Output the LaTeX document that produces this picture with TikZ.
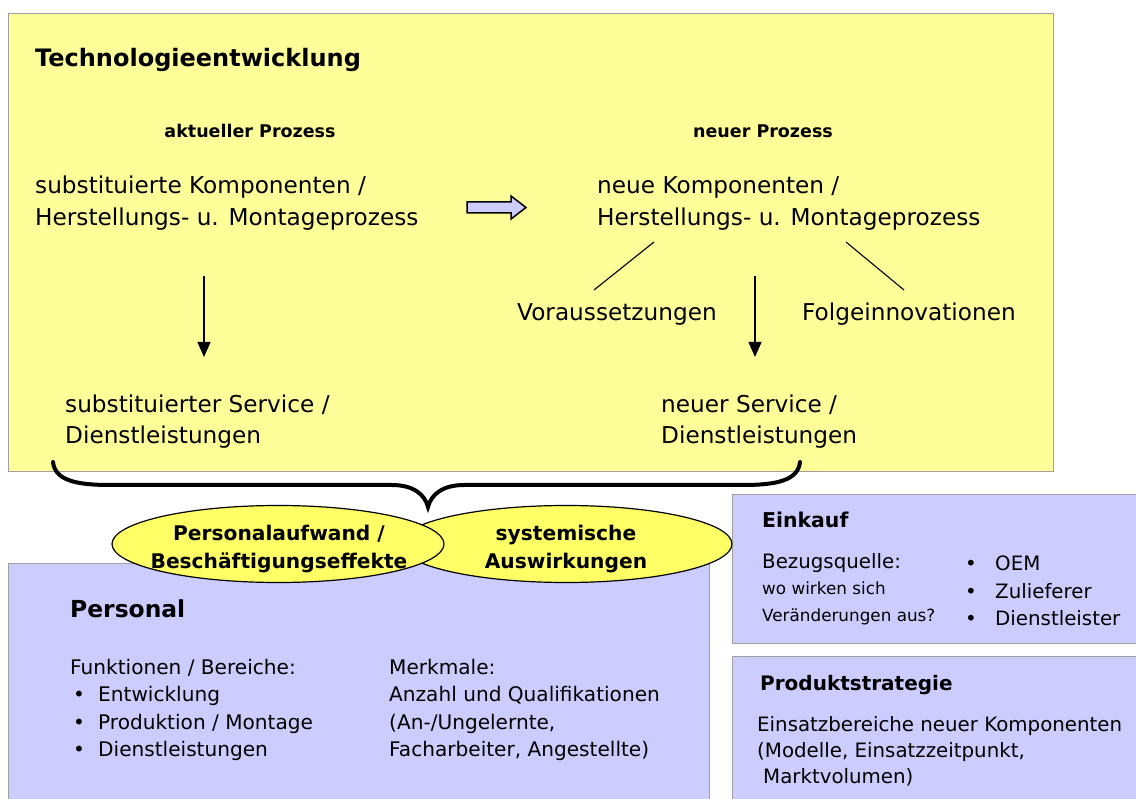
\documentclass[tikz,border=0pt]{standalone}
\usepackage{fontspec}
\setmainfont{DejaVu Sans}
\usetikzlibrary{arrows.meta,shapes.geometric}
\definecolor{ylw}{HTML}{FFFF99}
\definecolor{ylwE}{HTML}{FFFF66}
\definecolor{lav}{HTML}{CCCCFF}
\definecolor{brd}{HTML}{A0A0A0}
\newcommand\fsz[1]{\fontsize{#1}{#1}\selectfont}
\tikzset{
  panelY/.style={draw=brd,fill=ylw,line width=1.2pt,anchor=north west,inner sep=0pt},
  panelL/.style={draw=brd,fill=lav,line width=1.2pt,anchor=north west,inner sep=0pt},
  ttl/.style={anchor=base west,inner sep=0pt,font=\bfseries\fsz{24}},
  sub/.style={anchor=base,inner sep=0pt,font=\bfseries\fsz{17.5}},
  big/.style={anchor=base west,inner sep=0pt,font=\fsz{23.2}},
  mid/.style={anchor=base west,inner sep=0pt,font=\fsz{20.1}},
  prod/.style={anchor=base west,inner sep=0pt,font=\fsz{19.8}},
  small/.style={anchor=base west,inner sep=0pt,font=\fsz{16.8}},
  hd/.style={anchor=base west,inner sep=0pt,font=\bfseries\fsz{#1}},
  oval/.style={ellipse,draw=black,fill=ylwE,line width=1.2pt,inner sep=0pt,minimum width=332pt,minimum height=77pt},
  ovaltxt/.style={anchor=base,inner sep=0pt,font=\bfseries\fsz{20.2}},
  downarr/.style={-{Triangle[width=13pt,length=15pt]},line width=1.2pt},
  thin/.style={line width=1.1pt},
  blockarr/.style={draw=black,fill=lav,line width=1.5pt,line join=miter},
  brace/.style={line width=4pt,line cap=round}
}
\begin{document}
\begin{tikzpicture}[x=1pt,y=-1pt]
\useasboundingbox (0,0) rectangle (1136,799);
\clip (0,0) rectangle (1136,799);
\fill[white] (0,0) rectangle (1136,799);

% yellow panel
\node[panelY,minimum width=1045pt,minimum height=458pt] (tech) at (8,13) {};
\node[ttl] (ttitle) at (35,67) {Technologieentwicklung};
\node[sub] (akt) at (250,138) {aktueller Prozess};
\node[sub] (neu) at (763,138) {neuer Prozess};
\node[big] (sk1) at (35,194) {substituierte Komponenten /};
\node[big] (sk2) at (35,226) {Herstellungs- u. Montageprozess};
\node[big] (nk1) at (597,194) {neue Komponenten /};
\node[big] (nk2) at (597,226) {Herstellungs- u. Montageprozess};
\node[big] (vor) at (517,321) {Voraussetzungen};
\node[big] (fol) at (802,321) {Folgeinnovationen};
\node[big] (ss1) at (65,413) {substituierter Service /};
\node[big] (ss2) at (65,444) {Dienstleistungen};
\node[big] (ns1) at (661,413) {neuer Service /};
\node[big] (ns2) at (661,444) {Dienstleistungen};

% block arrow
\draw[blockarr] (467,202) -- (511,202) -- (511,196) -- (526,207.5) -- (511,219) -- (511,213) -- (467,213) -- cycle;

% down arrows
\coordinate (la1) at (204,276);
\coordinate (la2) at (204,357);
\coordinate (ra1) at (755,276);
\coordinate (ra2) at (755,357);
\draw[downarr] (la1) -- (la2);
\draw[downarr] (ra1) -- (ra2);

% diagonal lines
\coordinate (dl1) at (654,242);
\coordinate (dl2) at (594,290);
\coordinate (dr1) at (846,242);
\coordinate (dr2) at (904,290);
\draw[thin] (dl1) -- (dl2);
\draw[thin] (dr1) -- (dr2);

% brace
\coordinate (bl) at (53,462);
\coordinate (bt) at (428,507);
\coordinate (br) at (800,462);
\draw[brace] (bl) .. controls (55,480) and (75,485) .. (110,485) -- (392,485)
  .. controls (414,485) and (425,495) .. (bt)
  .. controls (431,495) and (442,485) .. (464,485) -- (743,485)
  .. controls (778,485) and (798,480) .. (br);

% lavender panels
\node[panelL,minimum width=701pt,minimum height=260pt] (pers) at (8,563) {};
\node[panelL,minimum width=420pt,minimum height=149pt] (eink) at (732,494) {};
\node[panelL,minimum width=420pt,minimum height=160pt] (prodp) at (732,656) {};

% ellipses
\node[oval] (sys) at (566,544) {};
\node[oval] (pa) at (278,544) {};
\node[ovaltxt] (pa1) at (279,540) {Personalaufwand /};
\node[ovaltxt] (pa2) at (279,568) {Beschäftigungseffekte};
\node[ovaltxt] (sy1) at (566,540) {systemische};
\node[ovaltxt] (sy2) at (566,568) {Auswirkungen};

% Personal
\node[hd=23.4] (ptitle) at (70,617) {Personal};
\node[mid] (fb) at (70,674) {Funktionen / Bereiche:};
\node[mid] (b1) at (73,701) {•};
\node[mid] (f1) at (98,701) {Entwicklung};
\node[mid] (b2) at (73,729) {•};
\node[mid] (f2) at (98,729) {Produktion / Montage};
\node[mid] (b3) at (73,756) {•};
\node[mid] (f3) at (98,756) {Dienstleistungen};
\node[mid] (m0) at (389,674) {Merkmale:};
\node[mid] (m1) at (389,701) {Anzahl und Qualifikationen};
\node[mid] (m2) at (389,729) {(An-/Ungelernte,};
\node[mid] (m3) at (389,756) {Facharbeiter, Angestellte)};

% Einkauf
\node[hd=20.4] (etitle) at (762,528) {Einkauf};
\node[prod] (e1) at (762,568) {Bezugsquelle:};
\node[small] (e2) at (762,594) {wo wirken sich};
\node[small] (e3) at (762,621) {Veränderungen aus?};
\node[prod] (eb1) at (965,570) {•};
\node[prod] (o1) at (995,570) {OEM};
\node[prod] (eb2) at (965,598) {•};
\node[prod] (o2) at (995,598) {Zulieferer};
\node[prod] (eb3) at (965,625) {•};
\node[prod] (o3) at (995,625) {Dienstleister};

% Produktstrategie
\node[hd=20] (pstitle) at (760,690) {Produktstrategie};
\node[prod] (p1) at (757,731) {Einsatzbereiche neuer Komponenten};
\node[prod] (p2) at (757,757) {(Modelle, Einsatzzeitpunkt,};
\node[prod] (p3) at (763,783) {Marktvolumen)};
\end{tikzpicture}
\end{document}
